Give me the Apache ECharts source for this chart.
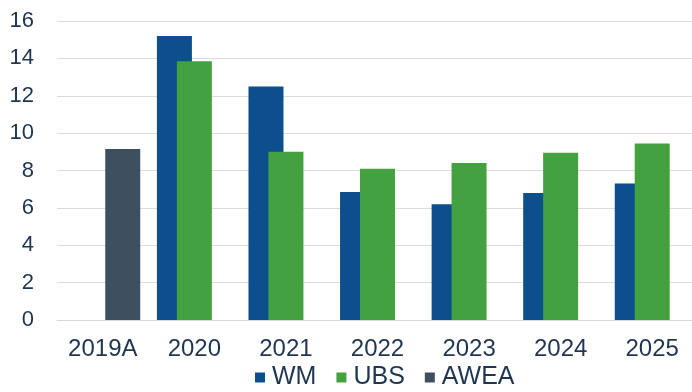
<!DOCTYPE html>
<html>
<head>
<meta charset="utf-8">
<script src="https://cdn.jsdelivr.net/npm/echarts@6/dist/echarts.min.js"></script>
<style>
  html, body { margin: 0; padding: 0; background: #fff; }
  #chart { width: 692px; height: 392px; }
</style>
</head>
<body>
<div id="chart"></div>
<script>
// categories and values
var years = ["2019A", "2020", "2021", "2022", "2023", "2024", "2025"];
var wm = [null, 15.2, 12.5, 6.85, 6.2, 6.8, 7.3];
var ubs = [null, 13.85, 9.0, 8.1, 8.4, 8.95, 9.45];
var awea = [9.15, null, null, null, null, null, null];
var yTicks = { min: 0, max: 16, step: 2 };

var textColor = "#1f3552";
var font = "Liberation Sans";

function barSeries(name, data, color) {
  return {
    name: name,
    type: "bar",
    data: data,
    barWidth: 35,
    barGap: "-43%",
    itemStyle: { color: color },
    emphasis: { disabled: true }
  };
}

var myChart = echarts.init(document.getElementById("chart"));
var option = {
  animation: false,
  grid: {
    left: 57,
    width: 641, // plot runs a little past the right edge, as in the picture
    top: 21,
    bottom: 72,
    outerBoundsMode: "none"
  },
  legend: {
    left: 255,
    top: 365,
    padding: 0,
    itemWidth: 10,
    itemHeight: 10,
    itemGap: 20,
    icon: "rect",
    textStyle: { fontFamily: font, fontSize: 25, color: textColor, padding: [0, 0, 0, 2] },
    data: ["WM", "UBS", "AWEA"]
  },
  xAxis: {
    type: "category",
    data: years,
    axisLine: { show: true, lineStyle: { color: "#d9d9d9", width: 1 } },
    axisTick: { show: false },
    axisLabel: {
      fontFamily: font,
      fontSize: 24,
      color: textColor,
      margin: 17
    }
  },
  yAxis: {
    type: "value",
    min: yTicks.min,
    max: yTicks.max,
    interval: yTicks.step,
    axisLine: { show: false },
    axisTick: { show: false },
    splitLine: { lineStyle: { color: "#dcdcdc", width: 1 } },
    axisLabel: {
      fontFamily: font,
      fontSize: 22,
      color: textColor,
      margin: 23
    }
  },
  series: [
    barSeries("WM", wm, "#0c4f8c"),
    barSeries("UBS", ubs, "#43a13f"),
    barSeries("AWEA", awea, "#3e4f60")
  ]
};
myChart.setOption(option);
</script>
</body>
</html>
